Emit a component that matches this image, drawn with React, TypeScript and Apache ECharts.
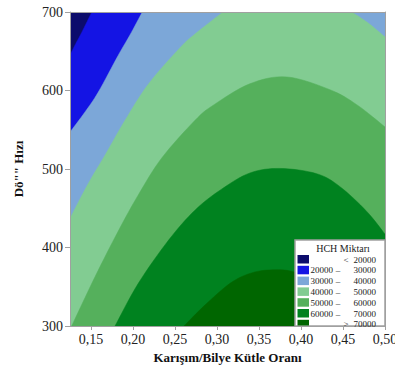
import React, { useEffect, useRef } from "react";
import * as echarts from "echarts";

// Axis extents and ticks
const xRange = [0.125, 0.5];
const yRange = [300, 700];
const xTicks = [0.15, 0.2, 0.25, 0.3, 0.35, 0.4, 0.45, 0.5];

// Contour level styling / legend
const levelColors = ["#0c0c6c", "#1414e4", "#7ca7d8", "#82cc92", "#55b05c", "#00821f", "#006600"];
const legendLow = ["", "20000", "30000", "40000", "50000", "60000", ""];
const legendSym = ["<", "–", "–", "–", "–", "–", ">"];
const legendHigh = ["20000", "30000", "40000", "50000", "60000", "70000", "70000"];
const legendTitle = "HCH Miktarı";

// Contour boundaries [x, y]
const boundary20000 = [[0.125, 645], [0.132, 660], [0.139, 674], [0.151, 700]];
const boundary30000 = [[0.125, 547], [0.1429, 572.7], [0.1587, 598], [0.1825, 645], [0.196, 670], [0.2111, 700]];
const boundary40000Left = [[0.125, 437], [0.1468, 481.6], [0.1667, 517.6], [0.19, 561], [0.2182, 608], [0.256, 654.5], [0.2738, 672], [0.3071, 700]];
const boundary40000Right = [[0.4604, 700], [0.48, 686], [0.5, 668.2]];
const boundary50000 = [[0.127, 300], [0.1548, 362.7], [0.1825, 421], [0.2063, 467], [0.2342, 514], [0.2738, 562], [0.2956, 581.3], [0.339, 608.5], [0.383, 617.3], [0.4345, 601], [0.4663, 582], [0.5, 553.6]];
const boundary60000 = [[0.1786, 300], [0.2063, 354.3], [0.2424, 409.4], [0.2738, 447.6], [0.305, 474], [0.3393, 495], [0.375, 500.7], [0.4187, 494], [0.4464, 477.5], [0.4782, 446], [0.5, 417]];
const boundary70000 = [[0.2607, 300], [0.2857, 326.7], [0.3155, 354.3], [0.3393, 367], [0.3631, 371.4], [0.3908, 369.1], [0.4226, 352], [0.452, 327], [0.47, 300]];

const FONT = '"Liberation Serif", "DejaVu Serif", serif';

// Catmull-Rom smoothing of a pixel polyline (drawing only)
function smoothPath(pts: number[][], steps = 8): number[][] {
  if (pts.length < 3) return pts;
  const out: number[][] = [];
  for (let i = 0; i < pts.length - 1; i++) {
    const p0 = pts[Math.max(0, i - 1)];
    const p1 = pts[i];
    const p2 = pts[i + 1];
    const p3 = pts[Math.min(pts.length - 1, i + 2)];
    for (let s = 0; s < steps; s++) {
      const t = s / steps;
      const t2 = t * t;
      const t3 = t2 * t;
      const f = (a: number, b: number, c: number, d: number) =>
        0.5 * (2 * b + (-a + c) * t + (2 * a - 5 * b + 4 * c - d) * t2 + (-a + 3 * b - 3 * c + d) * t3);
      out.push([f(p0[0], p1[0], p2[0], p3[0]), f(p0[1], p1[1], p2[1], p3[1])]);
    }
  }
  out.push(pts[pts.length - 1]);
  return out;
}

export default function App() {
  const ref = useRef<HTMLDivElement>(null);
  useEffect(() => {
    if (!ref.current) return;
    const chart = echarts.init(ref.current, undefined, { renderer: "svg" });
    const [x0, x1] = xRange;
    const [y0, y1] = yRange;
    const regions: { curves: number[][][]; corners: number[][] }[] = [
      { curves: [], corners: [[x0, y0], [x0, y1], [x1, y1], [x1, y0]] },
      { curves: [boundary20000], corners: [[x1, y1], [x1, y0], [x0, y0]] },
      { curves: [boundary30000], corners: [[x1, y1], [x1, y0], [x0, y0]] },
      { curves: [boundary40000Left, boundary40000Right], corners: [[x1, y0], [x0, y0]] },
      { curves: [boundary50000], corners: [[x1, y0]] },
      { curves: [boundary60000], corners: [[x1, y0]] },
      { curves: [boundary70000], corners: [] },
    ];

    const rowTop0 = 255;
    const pitch = 10.8;
    const Z = 100;
    const legendChildren: any[] = [
      {
        type: "rect",
        z: Z,
        shape: { x: 295, y: 240, width: 90, height: 86 },
        style: { fill: "#fff", stroke: "#a0a0a0", lineWidth: 1.5 },
      },
      {
        type: "text",
        z: Z + 1,
        x: 343,
        y: 248.5,
        style: { text: legendTitle, font: `10px ${FONT}`, fill: "#222", align: "center", verticalAlign: "middle", textAlign: "center", textVerticalAlign: "middle" },
      },
    ];
    levelColors.forEach((c, i) => {
      const top = rowTop0 + i * pitch;
      const h = Math.min(8.5, 325.5 - top);
      const cy = top + 4.5;
      legendChildren.push({ type: "rect", z: Z + 1, shape: { x: 297.5, y: top, width: 11.5, height: h }, style: { fill: c } });
      if (legendLow[i]) {
        legendChildren.push({ type: "text", z: Z + 1, x: 333, y: cy, style: { text: legendLow[i], font: `9px ${FONT}`, fill: "#222", align: "right", verticalAlign: "middle", textAlign: "right", textVerticalAlign: "middle" } });
      }
      const symX = legendSym[i] === "–" ? 338 : 346;
      legendChildren.push({ type: "text", z: Z + 1, x: symX, y: cy, style: { text: legendSym[i], font: `9px ${FONT}`, fill: "#222", align: "center", verticalAlign: "middle", textAlign: "center", textVerticalAlign: "middle" } });
      legendChildren.push({ type: "text", z: Z + 1, x: 376, y: cy, style: { text: legendHigh[i], font: `9px ${FONT}`, fill: "#222", align: "right", verticalAlign: "middle", textAlign: "right", textVerticalAlign: "middle" } });
    });

    const axisLineStyle = { color: "#a0a0a0", width: 1 };
    chart.setOption({
      animation: false,
      grid: { left: 70, right: 10, top: 12, bottom: 40, outerBoundsMode: "none", containLabel: false },
      xAxis: [
        {
          type: "value",
          min: x0,
          max: x1,
          z: 10,
          axisLine: { show: true, onZero: false, lineStyle: axisLineStyle },
          axisTick: { show: true, length: 4, lineStyle: axisLineStyle, customValues: xTicks },
          axisLabel: {
            customValues: xTicks,
            formatter: (v: number) => v.toFixed(2).replace(".", ","),
            fontFamily: FONT,
            fontSize: 14,
            color: "#222",
            margin: 6,
            hideOverlap: false,
          },
          splitLine: { show: false },
          name: "Karışım/Bilye Kütle Oranı",
          nameLocation: "middle",
          nameGap: 22,
          nameTextStyle: { fontFamily: FONT, fontWeight: "bold", fontSize: 13, color: "#111" },
        },
        {
          type: "value",
          position: "top",
          min: x0,
          max: x1,
          z: 10,
          axisLine: { show: true, onZero: false, lineStyle: axisLineStyle },
          axisTick: { show: false },
          axisLabel: { show: false },
          splitLine: { show: false },
        },
      ],
      yAxis: [
        {
          type: "value",
          min: y0,
          max: y1,
          interval: 100,
          z: 10,
          axisLine: { show: true, onZero: false, lineStyle: axisLineStyle },
          axisTick: { show: true, length: 5, lineStyle: axisLineStyle },
          axisLabel: { fontFamily: FONT, fontSize: 14, color: "#222", margin: 7 },
          splitLine: { show: false },
          name: 'Dö"" Hızı',
          nameLocation: "middle",
          nameGap: 45,
          nameTextStyle: { fontFamily: FONT, fontWeight: "bold", fontSize: 13, color: "#111" },
        },
        {
          type: "value",
          position: "right",
          min: y0,
          max: y1,
          z: 10,
          axisLine: { show: true, onZero: false, lineStyle: axisLineStyle },
          axisTick: { show: false },
          axisLabel: { show: false },
          splitLine: { show: false },
        },
      ],
      series: [
        {
          type: "custom",
          coordinateSystem: "cartesian2d",
          xAxisIndex: 0,
          yAxisIndex: 0,
          clip: true,
          z: 2,
          data: levelColors.map((_, i) => ({ value: [0.3, 500, i] })),
          renderItem: (params: any, api: any) => {
            const idx = api.value(2);
            const reg = regions[idx];
            let pts: number[][] = [];
            reg.curves.forEach((cv) => {
              pts = pts.concat(smoothPath(cv.map((p) => api.coord(p))));
            });
            pts = pts.concat(reg.corners.map((p) => api.coord(p)));
            return {
              type: "polygon",
              shape: { points: pts },
              style: { fill: levelColors[idx], stroke: levelColors[idx], lineWidth: 0.5 },
            };
          },
        },
      ],
      graphic: [{ type: "group", z: Z, children: legendChildren }],
    });
    return () => chart.dispose();
  }, []);
  return <div ref={ref} style={{ position: "absolute", left: 0, top: 0, width: 395, height: 366 }} />;
}
